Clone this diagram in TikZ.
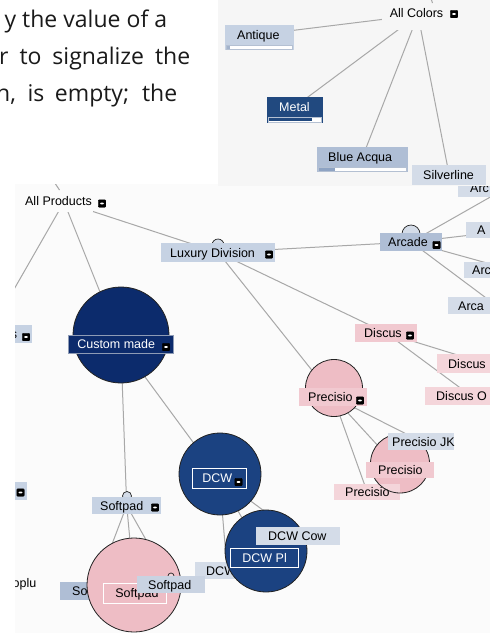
\documentclass[tikz,border=0pt]{standalone}
\usepackage{fontspec}
\newfontfamily\uifont{Liberation Sans}
\newfontfamily\docfont{Open Sans}
\pgfdeclarelayer{botback}
\pgfdeclarelayer{topback}
\pgfdeclarelayer{topfront}
\pgfsetlayers{botback,main,topback,topfront}
\newcommand\boxtxt[2]{\makebox[#1][l]{#2}}
\definecolor{navyA}{HTML}{0C2B6C}
\definecolor{navyB}{HTML}{1B4281}
\definecolor{metalc}{HTML}{21497F}
\definecolor{boxL}{HTML}{C6D2E3}
\definecolor{boxM}{HTML}{AFBED5}
\definecolor{boxP}{HTML}{D4DCE8}
\definecolor{boxS}{HTML}{C9D3E2}
\definecolor{pinkC}{HTML}{EEBDC5}
\definecolor{pinkM}{HTML}{F1C9D0}
\definecolor{pinkP}{HTML}{F4D5DA}
\definecolor{lblline}{HTML}{8E9BB5}
\definecolor{linkc}{HTML}{A8A8A8}
\definecolor{circc}{HTML}{222222}
\definecolor{topbg}{HTML}{F6F6F6}
\definecolor{botbg}{HTML}{FBFBFB}
\definecolor{doctext}{HTML}{1A1A1A}
\definecolor{barline}{HTML}{B4C0D2}
\definecolor{barA}{HTML}{A3B3CB}
\definecolor{barB}{HTML}{8EA3C3}
\begin{document}
\begin{tikzpicture}[x=1pt,y=-1pt,
  ui/.style={font=\uifont\fontsize{12.5}{14}\selectfont, text=black, text height=9pt, text depth=0pt},
  tb/.style={ui, rectangle, anchor=west, inner ysep=0pt},
  link/.style={draw=linkc, line width=1pt},
  icon/.style={draw=black, fill=black, rounded corners=1pt, minimum width=7.5pt, minimum height=7.5pt, inner sep=0pt,
    path picture={\fill[white] ([xshift=1.6pt,yshift=-0.8pt]path picture bounding box.west) rectangle ([xshift=-1.6pt,yshift=0.8pt]path picture bounding box.east);}},
  bigc/.style={circle, draw=circc, line width=0.8pt, inner sep=0pt},
  smallc/.style={circle, draw=circc, line width=0.7pt, fill=boxP, inner sep=0pt},
  doc/.style={font=\docfont\fontsize{23}{27}\selectfont, text=doctext, inner sep=0pt}]
\useasboundingbox (0,0) rectangle (490,633);

% ---------- document text ----------
\node[doc, anchor=base west] (t1) at (22,27.3) {\llap{y\hspace{6pt}}\makebox[145pt][s]{the value of a}};
\node[doc, anchor=base west] (t2) at (-1,64.5) {\makebox[191pt][s]{r to signalize the}};
\node[doc, anchor=base west] (t3) at (-4,101.7) {\makebox[181pt][s]{n, is empty; the}};

% ---------- bottom screenshot: nodes ----------
\begin{scope}
\clip (15,184) rectangle (490,633);
\node[smallc, minimum size=12pt] (luxury-c) at (218,245) {};
\node[smallc, minimum size=18pt] (arcade-c) at (411,234) {};
\node[smallc, minimum size=9pt] (softpad-c) at (127,496) {};

\node[tb, fill=boxL, minimum height=18pt, inner xsep=0pt] (frag1) at (-57,334) {\makebox[89pt][r]{s\hspace{15pt}}};
\node[icon] (frag1-ic) at (26,337) {};
\node[tb, fill=boxL, minimum height=18pt, inner xsep=0pt] (frag2) at (-50,491) {\makebox[77pt]{}};
\node[icon] (frag2-ic) at (20.5,492.5) {};
\node[ui, anchor=west, inner sep=0pt] (frag3) at (12.5,583) {oplu};

\node[ui, fill=botbg, inner sep=0pt, minimum width=69pt, minimum height=22pt] (allprod) at (58.5,201) {All Products};
\node[icon] (allprod-ic) at (102,203.5) {};
\draw[link] ([shift={(1,-11)}]allprod.center) -- ([shift={(-5,-20)}]allprod.center);

\node[bigc, fill=navyA, minimum size=96pt] (custom-c) at (121,335) {};
\node[tb, fill=navyA, draw=lblline, line width=0.6pt, text=white, minimum height=18pt, inner xsep=9pt] (custom) at (68,344) {\boxtxt{87pt}{Custom made}};
\node[icon] (custom-ic) at (166,347) {};

\node[tb, fill=boxL, minimum height=19pt, inner xsep=9pt] (luxury) at (161,252.5) {\boxtxt{96pt}{Luxury Division}};
\node[icon] (luxury-ic) at (269,254.5) {};

\node[tb, fill=boxM, minimum height=18pt, inner xsep=8pt] (arcade) at (380,242) {\boxtxt{46pt}{Arcade}};
\node[icon] (arcade-ic) at (436.5,245) {};
\node[tb, fill=boxP, minimum height=18pt, inner xsep=12pt] (arc1) at (458,188) {\boxtxt{72pt}{Arc}};
\node[tb, fill=boxP, minimum height=16pt, inner xsep=11pt] (arc2) at (466,230) {\boxtxt{74pt}{A}};
\node[tb, fill=boxP, minimum height=16pt, inner xsep=8pt] (arc3) at (464,270) {\boxtxt{80pt}{Arc}};
\node[tb, fill=boxP, minimum height=17pt, inner xsep=10pt] (arc4) at (448,305.5) {\boxtxt{76pt}{Arca}};

\node[tb, fill=pinkM, minimum height=18pt, inner xsep=9pt] (discus) at (355,333) {\boxtxt{44pt}{Discus}};
\node[icon] (discus-ic) at (410,335.5) {};
\node[tb, fill=pinkP, minimum height=19pt, inner xsep=11pt] (discus1) at (437,363.5) {\boxtxt{74pt}{Discus}};
\node[tb, fill=pinkP, minimum height=18pt, inner xsep=11pt] (discus2) at (425,396) {\boxtxt{70pt}{Discus O}};

\node[bigc, fill=pinkC, minimum size=57pt] (prec-c) at (334,388) {};
\node[tb, fill=pinkM, minimum height=18pt, inner xsep=9pt] (prec) at (299,397) {\boxtxt{50pt}{Precisio}};
\node[icon] (prec-ic) at (360,400.5) {};
\node[bigc, fill=pinkC, draw=none, minimum size=59pt] (prec2-c) at (400,463.5) {};
\node[tb, fill=pinkP, minimum height=16pt, inner xsep=11pt] (prec3) at (334,492) {\boxtxt{44pt}{Precisio}};
\node[bigc, minimum size=59pt] (prec2-o) at (400,463.5) {};
\node[tb, fill=boxP, minimum height=17pt, inner xsep=4pt] (precjk) at (388,441.5) {\boxtxt{58pt}{Precisio JK}};
\node[tb, fill=pinkM, minimum height=16pt, inner xsep=12pt] (prec2) at (366,470) {\boxtxt{44pt}{Precisio}};

\node[bigc, fill=navyB, minimum size=82pt] (dcw-c) at (220,474) {};
\node[tb, fill=navyB, draw=white, line width=0.8pt, text=white, minimum height=20pt, inner xsep=10pt] (dcw) at (192,478) {\boxtxt{34pt}{DCW}};
\node[icon] (dcw-ic) at (238.5,482) {};
\node[tb, fill=boxP, minimum height=17pt, inner xsep=11pt] (dcwb) at (195,570.5) {\boxtxt{42pt}{DCW}};
\node[bigc, fill=navyB, minimum size=82pt] (dcwpl-c) at (266,551) {};
\node[tb, fill=navyB, draw=white, line width=0.8pt, text=white, minimum height=19pt, inner xsep=12pt] (dcwpl) at (230,557.5) {\boxtxt{44pt}{DCW Pl}};
\node[tb, fill=boxP, minimum height=18pt, inner xsep=12pt] (dcwcow) at (256,536) {\boxtxt{60pt}{DCW Cow}};

\node[tb, fill=boxL, minimum height=17pt, inner xsep=8pt] (softpad) at (92,505.5) {\boxtxt{53pt}{Softpad}};
\node[icon] (softpad-ic) at (155,507.5) {};
\node[tb, fill=boxM, minimum height=18pt, inner xsep=12pt] (softa) at (60,591) {\boxtxt{44pt}{Softpad}};
\node[bigc, fill=pinkC, minimum size=94pt] (softlbl-c) at (134,585) {};
\node[tb, fill=pinkC, draw=white, line width=0.8pt, minimum height=20pt, inner xsep=12pt] (softlbl) at (103,593) {\boxtxt{39pt}{Softpad}};
\node[smallc, fill=pinkP, minimum size=6pt] (softb-c) at (171,576) {};
\node[tb, fill=boxS, minimum height=17pt, inner xsep=11pt] (softb) at (137,584.5) {\boxtxt{46pt}{Softpad}};
\end{scope}

% ---------- bottom screenshot: background and connectors ----------
\begin{pgfonlayer}{botback}
\fill[white] (0,0) rectangle (490,633);
\fill[botbg] (15,184) rectangle (490,633);
\begin{scope}
\clip (15,184) rectangle (490,633);
\coordinate (offleft) at (-15,340);
\draw[link] ([shift={(5.5,1)}]allprod.center) -- (offleft);
\draw[link] ([shift={(5.5,1)}]allprod.center) -- (custom.center);
\draw[link] ([shift={(5.5,1)}]allprod.center) -- (luxury.center);
\draw[link] (luxury.center) -- (arcade.center);
\draw[link] (luxury.center) -- (discus.center);
\draw[link] (luxury.center) -- (prec.center);
\draw[link] (arcade.center) -- (arc1.center);
\draw[link] (arcade.center) -- (arc2.center);
\draw[link] (arcade.center) -- (arc3.center);
\draw[link] (arcade.center) -- (arc4.center);
\draw[link] (discus.center) -- (discus1.center);
\draw[link] (discus.center) -- (discus2.center);
\draw[link] (prec.center) -- (precjk.center);
\draw[link] (prec.center) -- (prec2.center);
\draw[link] (prec.center) -- (prec3.center);
\draw[link] (custom.center) -- (softpad.center);
\draw[link] (custom.center) -- (dcw.center);
\draw[link] (softpad.center) -- (softa.center);
\draw[link] (softpad.center) -- (softlbl.center);
\draw[link] (softpad.center) -- (softb.center);
\draw[link] (dcw.center) -- (dcwb.center);
\draw[link] (dcw.center) -- (dcwpl.center);
\draw[link] (dcw.center) -- (dcwcow.center);
\end{scope}
\end{pgfonlayer}

% ---------- top screenshot: nodes ----------
\begin{pgfonlayer}{topfront}
\begin{scope}
\clip (218,0) rectangle (490,186);
\node[ui, fill=topbg, inner sep=0pt, minimum width=69pt, minimum height=34pt] (allcolors) at (416.5,13) {All Colors};
\node[icon] (allcolors-ic) at (454,14) {};
\draw[link] ([shift={(16,-10)}]allcolors.center) -- ([shift={(12,-22)}]allcolors.center);

\node[tb, fill=boxL, minimum height=19pt, inner xsep=12pt] (antique) at (225,34.5) {\boxtxt{45pt}{Antique}};
\fill[boxL] (225,44) rectangle (294,50);
\draw[barline, fill=white, line width=0.6pt] (226.5,45.5) rectangle (292.5,49);
\fill[barA] (227,46) rectangle (230,48.5);

\node[tb, fill=metalc, text=white, minimum height=19pt, inner xsep=12pt] (metal) at (267,106.5) {\boxtxt{32pt}{Metal}};
\fill[metalc] (267,116) rectangle (323,123);
\draw[barline, fill=white, line width=0.6pt] (268.5,117.5) rectangle (321.5,121.8);
\fill[metalc] (269,118) rectangle (312,121.3);

\node[tb, fill=boxM, minimum height=19pt, inner xsep=11pt] (blueacqua) at (317,156.5) {\boxtxt{69pt}{Blue Acqua}};
\fill[boxM] (317,166) rectangle (408,172);
\draw[barline, fill=white, line width=0.6pt] (318.5,167) rectangle (406.5,171);
\fill[barB] (319,167.5) rectangle (335,170.5);

\node[tb, fill=boxP, minimum height=20pt, inner xsep=11pt] (silverline) at (412,175) {\boxtxt{52pt}{Silverline}};
\end{scope}
\end{pgfonlayer}

% ---------- top screenshot: background and connectors ----------
\begin{pgfonlayer}{topback}
\fill[topbg] (218,0) rectangle (490,186);
\begin{scope}
\clip (218,0) rectangle (490,186);
\draw[link] (antique.center) -- ([shift={(1.5,2)}]allcolors.center);
\draw[link] (metal.center) -- ([shift={(1.5,2)}]allcolors.center);
\draw[link] (blueacqua.center) -- ([shift={(1.5,2)}]allcolors.center);
\draw[link] (silverline.center) -- ([shift={(1.5,2)}]allcolors.center);
\end{scope}
\end{pgfonlayer}
\end{tikzpicture}
\end{document}
